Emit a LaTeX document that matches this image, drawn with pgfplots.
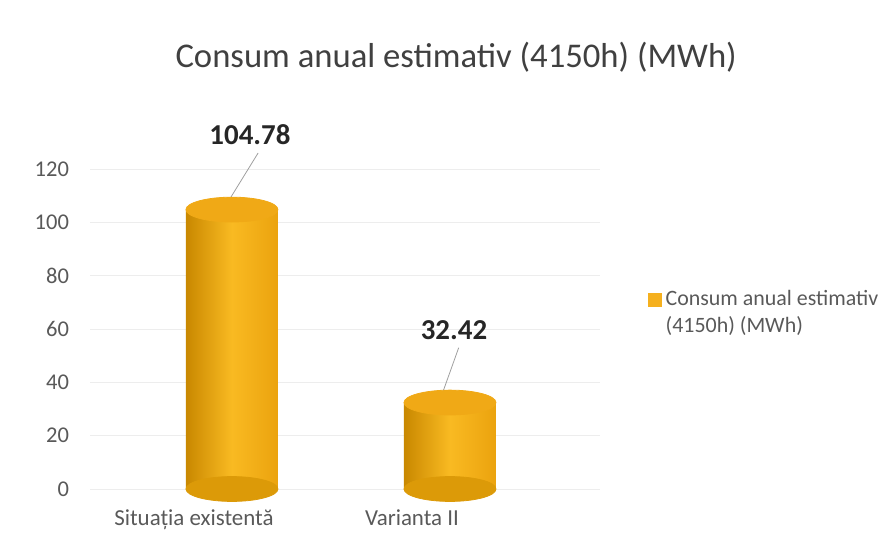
\documentclass[border=0pt]{standalone}
\usepackage{pgfplots}
\pgfplotsset{compat=1.18}
\usepackage{fontspec}
\setmainfont{Carlito}
\definecolor{tickgray}{HTML}{595959}
\definecolor{titlegray}{HTML}{404040}
\definecolor{labelgray}{HTML}{262626}
\definecolor{barlight}{HTML}{F9BA22}
\definecolor{bardark}{HTML}{C98800}
\definecolor{barright}{HTML}{EBA30E}
\definecolor{bartop}{HTML}{F0A916}
\definecolor{barbot}{HTML}{DC9A08}
\definecolor{legsq}{HTML}{F5B01E}
\begin{document}
\begin{tikzpicture}
\useasboundingbox (-45bp,-26bp) rectangle (401bp,244.5bp);
\begin{axis}[
  at={(0,0)}, anchor=south west,
  scale only axis, width=255bp, height=160bp,
  xmin=-0.651, xmax=1.688, ymin=0, ymax=120,
  xtick={0,1}, xticklabels={Situația existentă, Varianta II},
  ytick={0,20,...,120},
  axis line style={draw=none}, major tick length=0pt,
  ymajorgrids, grid style={black!7},
  /pgf/number format/assume math mode=true,
  yticklabel style={font=\fontsize{11.3}{13}\selectfont, text=tickgray, xshift=-7bp},
  xticklabel style={font=\fontsize{11.5}{13}\selectfont, text=tickgray, xshift=-19bp, yshift=-7bp},
  clip=false,
  title={Consum anual estimativ (4150h) (MWh)},
  title style={at={(0.718,1.3125)}, anchor=center, font=\fontsize{17.4}{20}\selectfont, text=titlegray},
  legend style={at={(1.081,0.55)}, anchor=west, draw=none, fill=none,
    font=\fontsize{11}{13}\selectfont, text=tickgray, row sep=0bp},
  legend cell align=left,
  nodes near coords={\pgfmathprintnumber[fixed,precision=2,assume math mode=true]{\pgfplotspointmeta}},
]
% bottom ellipses
\addplot[only marks, mark=*, mark size=23bp, forget plot, color=barbot,
  mark options={yscale=0.27}, nodes near coords={}]
  coordinates {(0,0) (1,0)};
% bars (each its own path so that each is shaded on its own)
\addplot[ybar, bar width=46bp, draw=none,
  left color=bardark, right color=barright, middle color=barlight,
  legend image code/.code={\pgfsetfillcolor{legsq}\pgfpathrectangle{\pgfpoint{0bp}{-3.5bp}}{\pgfpoint{7bp}{7bp}}\pgfusepath{fill}},
  every node near coord/.append style={font=\bfseries\fontsize{14.5}{17}\selectfont, text=labelgray, anchor=south, yshift=29bp, xshift=9bp}]
  coordinates {(0,104.78)};
\addlegendentry{Consum anual estimativ}
\addplot[ybar, bar width=46bp, draw=none, forget plot,
  left color=bardark, right color=barright, middle color=barlight,
  every node near coord/.append style={font=\bfseries\fontsize{14.5}{17}\selectfont, text=labelgray, anchor=south, yshift=28bp, xshift=2bp}]
  coordinates {(1,32.42)};
% top ellipses
\addplot[only marks, mark=*, mark size=23bp, forget plot, color=bartop,
  mark options={yscale=0.27}, nodes near coords={}]
  coordinates {(0,104.78) (1,32.42)};
% leader lines
\addplot[gray!75, forget plot, nodes near coords={}] coordinates {(-0.04,104.78) (0.12,126)};
\addplot[gray!75, forget plot, nodes near coords={}] coordinates {(0.95,32.42) (1.04,53)};
\addlegendimage{empty legend}
\addlegendentry{(4150h) (MWh)}
\end{axis}
\end{tikzpicture}
\end{document}
